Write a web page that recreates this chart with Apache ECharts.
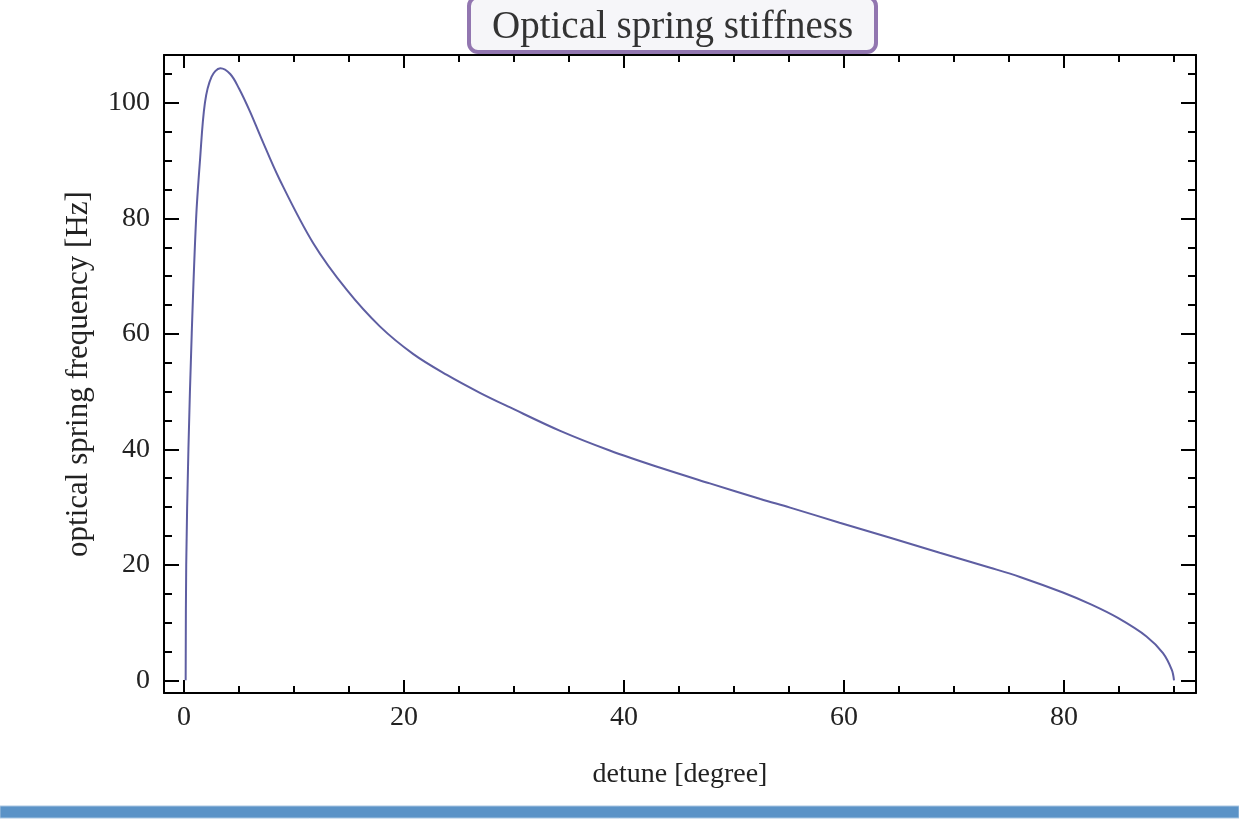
<!DOCTYPE html>
<html>
<head>
<meta charset="utf-8">
<script src="https://cdn.jsdelivr.net/npm/echarts@6/dist/echarts.min.js"></script>
<style>
  html, body { margin: 0; padding: 0; background: #fff; }
  #chart { width: 1239px; height: 837px; }
</style>
</head>
<body>
<div id="chart"></div>
<script>
// values
const detune = [0.15, 0.2, 0.4, 0.7, 1.1, 1.45, 1.9, 2.5, 3.3, 4.2, 5, 6, 7, 8.7, 11.75, 14.8, 17.8, 20.85,
    23.9, 26.9, 29.6, 34.2, 38.7, 43.3, 47.8, 52.4, 55.1, 59.6, 64.2, 68.7, 73.3, 76, 79.9, 82.5, 84.9, 87.5, 89, 89.8, 90];
const frequency = [0, 20, 40, 60, 80, 90, 100, 104.5, 106, 105, 102.5, 98.5, 94, 86.7, 75.7, 67.6, 61.3, 56.5,
    52.9, 49.8, 47.3, 43.2, 39.8, 36.8, 34.1, 31.4, 29.9, 27.3, 24.7, 22.1, 19.5, 17.9, 15.2, 13.1, 10.8, 7.6, 4.7, 1.8, 0];
const xMajor = [0, 20, 40, 60, 80];
const xMinor = [5, 10, 15, 25, 30, 35, 45, 50, 55, 65, 70, 75, 85, 90];
const yMajor = [0, 20, 40, 60, 80, 100];
const yMinor = [5, 10, 15, 25, 30, 35, 45, 50, 55, 65, 70, 75, 85, 90, 95, 105];

const serif = 'Liberation Serif';
const xRange = { min: -1.82, max: 92 };
const yRange = { min: -2.2, max: 108.3 };

function tickAxis(base, pos, ticks, len, showLine) {
    return Object.assign({
        type: 'value',
        position: pos,
        offset: 0,
        axisLine: { show: showLine, onZero: false, lineStyle: { color: '#000', width: 2 } },
        axisTick: { show: true, inside: true, length: len, customValues: ticks, lineStyle: { color: '#000', width: 2 } },
        axisLabel: { show: false },
        splitLine: { show: false }
    }, base);
}

let xAxes = [
    tickAxis(xRange, 'bottom', xMajor, 13, true),
    tickAxis(xRange, 'bottom', xMinor, 7, false),
    tickAxis(xRange, 'top', xMajor, 13, true),
    tickAxis(xRange, 'top', xMinor, 7, false)
];
xAxes[0].axisLabel = { show: true, customValues: xMajor, margin: 11, fontFamily: serif, fontSize: 28, color: '#222' };
xAxes[0].name = 'detune [degree]';
xAxes[0].nameLocation = 'middle';
xAxes[0].nameGap = 68;
xAxes[0].nameTextStyle = { fontFamily: serif, fontSize: 28, color: '#222', verticalAlign: 'top' };

let yAxes = [
    tickAxis(yRange, 'left', yMajor, 15, true),
    tickAxis(yRange, 'left', yMinor, 8, false),
    tickAxis(yRange, 'right', yMajor, 15, true),
    tickAxis(yRange, 'right', yMinor, 8, false)
];
yAxes[0].axisLabel = { show: true, customValues: yMajor, margin: 14, fontFamily: serif, fontSize: 28, color: '#222' };
yAxes[0].name = 'optical spring frequency [Hz]';
yAxes[0].nameLocation = 'middle';
yAxes[0].nameGap = 70;
yAxes[0].nameTextStyle = { fontFamily: serif, fontSize: 31, color: '#222' };

let myChart = echarts.init(document.getElementById('chart'));
let option = {
    backgroundColor: '#fff',
    animation: false,
    title: {
        text: 'Optical spring stiffness',
        left: 469,
        top: -3,
        padding: [11, 23, 5, 23],
        backgroundColor: '#f6f6f9',
        borderColor: '#9276b0',
        borderWidth: 4,
        borderRadius: 9,
        textStyle: { fontFamily: serif, fontSize: 39, fontWeight: 'normal', color: '#333' }
    },
    grid: { left: 164, right: 43, top: 55, bottom: 144 },
    xAxis: xAxes,
    yAxis: yAxes,
    series: [{
        type: 'line',
        xAxisIndex: 0,
        yAxisIndex: 0,
        data: detune.map((d, i) => [d, frequency[i]]),
        smooth: 0.35,
        symbol: 'none',
        lineStyle: { color: '#5e5ea2', width: 2 }
    }],
    graphic: [{
        type: 'rect',
        shape: { x: 0, y: 806, width: 1239, height: 12 },
        style: { fill: '#5b93c7', stroke: '#a9c6e2', lineWidth: 1 }
    }]
};
myChart.setOption(option);
</script>
</body>
</html>
